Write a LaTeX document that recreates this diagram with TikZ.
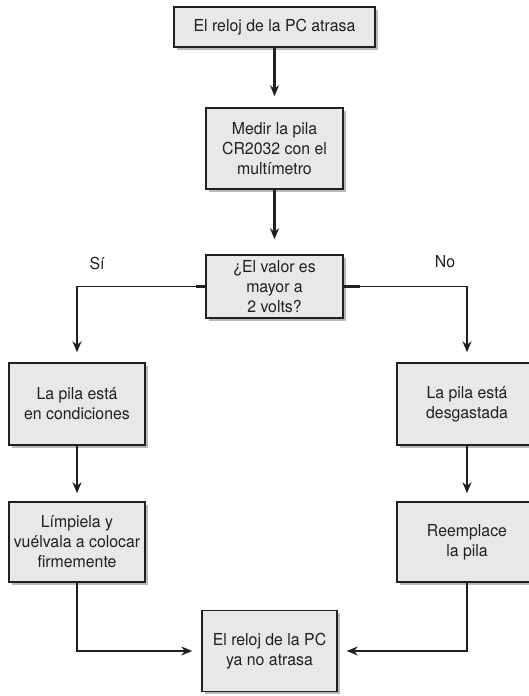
\documentclass[tikz,border=0pt]{standalone}
\usepackage{fontspec}
\setmainfont{TeX Gyre Heros}[FakeStretch=0.96]
\usetikzlibrary{arrows.meta,shadows}
\definecolor{cajagris}{HTML}{E7E8E9}
\definecolor{trazo}{HTML}{231F20}

\tikzset{
    caja/.style={draw=trazo, line width=1.5pt, fill=cajagris, align=center,
        inner sep=0pt, text=trazo, font=\fontsize{16.5}{20}\selectfont,
        drop shadow={shadow xshift=2.5pt, shadow yshift=-2.5pt,
            fill=black!50, opacity=.55}},
    flecha/.style={draw=trazo, line width=2.6pt, -{Stealth[length=11pt,width=9pt]}},
    rama/.style={draw=trazo, line width=1.3pt, -{Stealth[length=11pt,width=9pt]}},
    muñon/.style={draw=trazo, line width=2.6pt},
    etiqueta/.style={text=trazo, font=\fontsize{16.5}{20}\selectfont}
}

\begin{document}
\begin{tikzpicture}[x=1pt, y=-1pt]
    \useasboundingbox (0,0) rectangle (528,696);

    % boxes
    \node[caja, minimum width=201pt, minimum height=40pt] (inicio) at (274.5,27) {El reloj de la PC atrasa};
    \node[caja, minimum width=137pt, minimum height=81pt] (medir) at (274.5,148.5) {Medir la pila\\CR2032 con el\\multímetro};
    \node[caja, minimum width=137pt, minimum height=63pt] (valor) at (274.5,286.5) {¿El valor es\\mayor a\\2 volts?};
    \node[caja, minimum width=136pt, minimum height=82pt] (cond) at (77,404) {La pila está\\en condiciones};
    \node[caja, minimum width=136pt, minimum height=80pt] (limp) at (77,542) {Límpiela y\\vuélvala a colocar\\firmemente};
    \node[caja, minimum width=140pt, minimum height=82pt] (desg) at (467,404) {La pila está\\desgastada};
    \node[caja, minimum width=140pt, minimum height=80pt] (reemp) at (467,542) {Reemplace\\la pila};
    \node[caja, minimum width=135pt, minimum height=81pt] (fin) at (269.5,651) {El reloj de la PC\\ya no atrasa};

    % labels
    \node[etiqueta] (si) at (97,263) {Sí};
    \node[etiqueta] (no) at (445,262) {No};

    % connectors
    \draw[flecha, shorten >=11pt] (inicio) -- (medir);
    \draw[flecha, shorten >=15pt] (medir) -- (valor);
    \draw[rama, shorten >=10pt] (valor.west) -| (cond.north);
    \draw[rama, shorten >=10pt] (valor.east) -| (desg.north);
    \draw[flecha, shorten >=8pt] (cond) -- (limp);
    \draw[flecha, shorten >=8pt] (desg) -- (reemp);
    \draw[rama, shorten >=9pt] (limp.south) |- (fin.west);
    \draw[rama, shorten >=9pt] (reemp.south) |- (fin.east);

    % thick stubs at the box sides
    \draw[muñon] (valor.west) -- ++(-9,0);
    \draw[muñon] (valor.east) -- ++(16,0);
    \draw[muñon] (limp.south) -- ++(0,14);
    \draw[muñon] (reemp.south) -- ++(0,14);
\end{tikzpicture}
\end{document}
